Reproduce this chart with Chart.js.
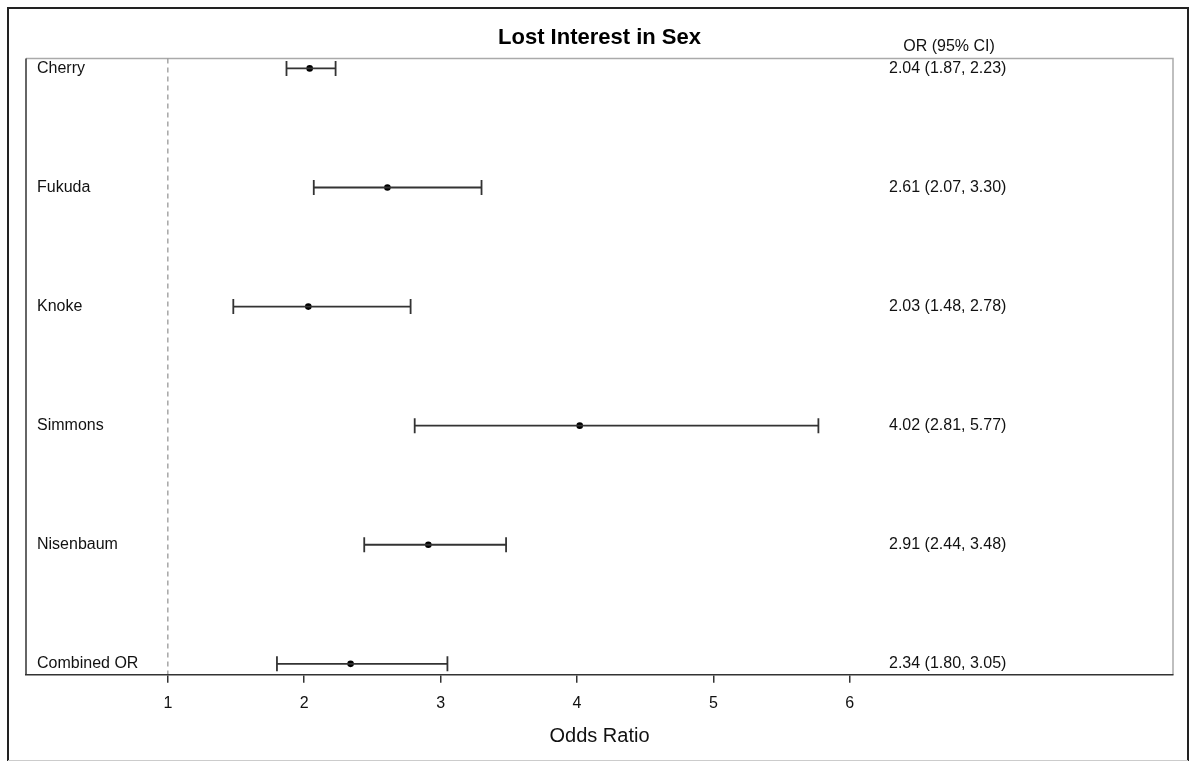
<!DOCTYPE html>
<html>
<head>
<meta charset="utf-8">
<script src="https://cdn.jsdelivr.net/npm/chart.js@4"></script>
<style>
  html, body { margin: 0; padding: 0; background: #fff; }
  #wrap { width: 1192px; height: 762px; }
</style>
</head>
<body>
<div id="wrap"><canvas id="forest" width="1192" height="762"></canvas></div>
<script>
// forest plot data
var studies = ['Cherry', 'Fukuda', 'Knoke', 'Simmons', 'Nisenbaum', 'Combined OR'];
var oddsRatio = [2.04, 2.61, 2.03, 4.02, 2.91, 2.34];
var ciLow = [1.87, 2.07, 1.48, 2.81, 2.44, 1.80];
var ciHigh = [2.23, 3.30, 2.78, 5.77, 3.48, 3.05];
var xTicks = [1, 2, 3, 4, 5, 6];
var refValue = 1;

var FONT = '"Liberation Sans", Arial, sans-serif';
var INK = '#333';

function fmt(v) { return v.toFixed(2); }

var datasets = [];
studies.forEach(function(name, i) {
    datasets.push({
        data: [{x: ciLow[i], y: i}, {x: ciHigh[i], y: i}],
        showLine: true,
        borderColor: INK,
        borderWidth: 1.8,
        pointStyle: 'line',
        rotation: 90,
        pointRadius: 7.5,
        pointBorderColor: INK,
        pointBorderWidth: 1.8
    });
});
datasets.push({
    data: oddsRatio.map(function(v, i) { return {x: v, y: i}; }),
    pointStyle: 'circle',
    pointRadius: 3.3,
    pointBackgroundColor: '#000',
    pointBorderColor: '#000',
    pointBorderWidth: 0
});

var framePlugin = {
    id: 'frame',
    beforeDraw: function(chart) {
        var c = chart.ctx, a = chart.chartArea;
        c.save();
        // outer frame
        c.lineWidth = 2;
        c.strokeStyle = '#222';
        c.beginPath();
        c.moveTo(8, 761); c.lineTo(8, 8); c.lineTo(1188, 8); c.lineTo(1188, 761);
        c.stroke();
        c.lineWidth = 1;
        c.strokeStyle = '#ccc';
        c.beginPath(); c.moveTo(8, 760.5); c.lineTo(1188, 760.5); c.stroke();
        // plot box: light top/right, dark left
        c.strokeStyle = '#aaa';
        c.lineWidth = 1.5;
        c.beginPath();
        c.moveTo(a.left, a.top); c.lineTo(a.right, a.top); c.lineTo(a.right, a.bottom);
        c.stroke();
        c.strokeStyle = INK;
        c.beginPath(); c.moveTo(a.left, a.top); c.lineTo(a.left, a.bottom); c.stroke();
        // reference line
        var xr = chart.scales.x.getPixelForValue(refValue);
        c.strokeStyle = '#999';
        c.lineWidth = 1.3;
        c.setLineDash([5, 4]);
        c.beginPath(); c.moveTo(xr, a.top); c.lineTo(xr, a.bottom); c.stroke();
        c.restore();
    }
};

var textPlugin = {
    id: 'texts',
    afterDraw: function(chart) {
        var c = chart.ctx, a = chart.chartArea, y = chart.scales.y;
        c.save();
        c.fillStyle = '#111';
        c.font = '16px ' + FONT;
        c.textBaseline = 'middle';
        c.textAlign = 'left';
        studies.forEach(function(name, i) {
            var py = y.getPixelForValue(i);
            c.fillText(name, a.left + 11, py);
            c.fillText(fmt(oddsRatio[i]) + ' (' + fmt(ciLow[i]) + ', ' + fmt(ciHigh[i]) + ')', a.right - 284, py);
        });
        c.textAlign = 'center';
        c.fillText('OR (95% CI)', a.right - 224, a.top - 12);
        c.restore();
    }
};

new Chart(document.getElementById('forest'), {
    type: 'scatter',
    data: { datasets: datasets },
    options: {
        responsive: false,
        animation: false,
        layout: { padding: { left: 26, right: 19, top: 0, bottom: 14 } },
        plugins: {
            legend: { display: false },
            tooltip: { enabled: false },
            title: {
                display: true,
                text: 'Lost Interest in Sex',
                color: '#000',
                font: { family: FONT, size: 22, weight: 'bold' },
                padding: { top: 25, bottom: 7 }
            }
        },
        scales: {
            x: {
                type: 'linear',
                min: -0.04,
                max: 8.37,
                afterBuildTicks: function(scale) {
                    scale.ticks = xTicks.map(function(v) { return {value: v}; });
                },
                grid: { drawOnChartArea: false, drawTicks: true, tickLength: 8, color: INK, lineWidth: 1.5 },
                border: { display: true, color: INK, width: 1.5 },
                ticks: { color: '#111', font: { family: FONT, size: 16 }, padding: 11, maxRotation: 0 },
                title: {
                    display: true,
                    text: 'Odds Ratio',
                    color: '#111',
                    font: { family: FONT, size: 20 },
                    padding: { top: 0, bottom: 0 }
                }
            },
            y: {
                type: 'linear',
                reverse: true,
                min: -0.084,
                max: 5.092,
                display: false
            }
        }
    },
    plugins: [framePlugin, textPlugin]
});
</script>
</body>
</html>
